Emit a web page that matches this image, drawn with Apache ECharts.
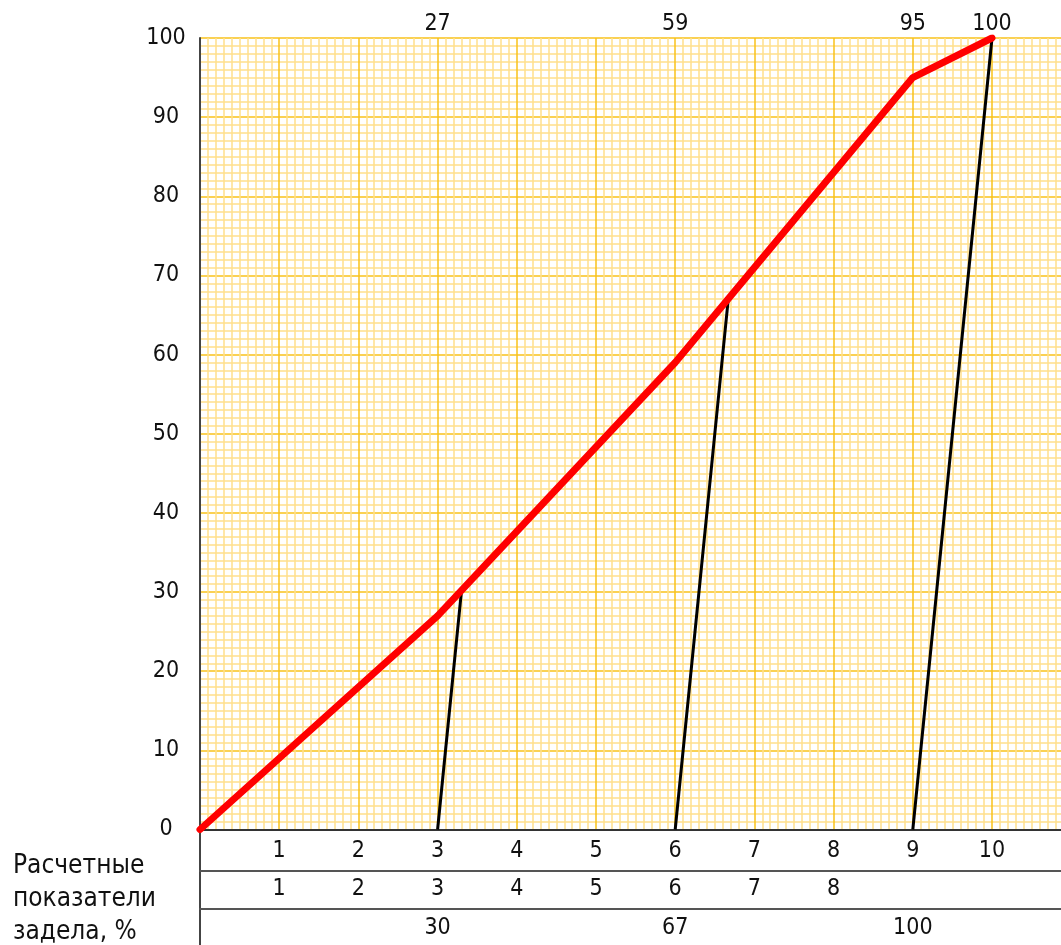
<!DOCTYPE html>
<html>
<head>
<meta charset="utf-8">
<script src="https://cdn.jsdelivr.net/npm/echarts@6/dist/echarts.min.js"></script>
<style>
  html, body { margin: 0; padding: 0; background: #fff; }
  #main { width: 1061px; height: 945px; }
</style>
</head>
<body>
<div id="main"></div>
<script>
// red cumulative curve
var curveX = [0, 3, 6, 9, 10];
var curveY = [0, 27, 59, 95, 100];

// black lead lines: start on the axis, end on the curve
var leadStartX = [3, 6, 9];
var leadEndX = [3.3, 6.67, 10];
var leadEndY = [30, 67, 100];

// tick labels
var yLabels = ['0', '10', '20', '30', '40', '50', '60', '70', '80', '90', '100'];
var topX = [3, 6, 9, 10];
var topLabels = ['27', '59', '95', '100'];
var row1X = [1, 2, 3, 4, 5, 6, 7, 8, 9, 10];
var row1Labels = ['1', '2', '3', '4', '5', '6', '7', '8', '9', '10'];
var row2X = [1, 2, 3, 4, 5, 6, 7, 8];
var row2Labels = ['1', '2', '3', '4', '5', '6', '7', '8'];
var row3X = [3, 6, 9];
var row3Labels = ['30', '67', '100'];

var FONT = '"DejaVu Sans Condensed", "DejaVu Sans", sans-serif';
var FS = 23;

function pick(xs, labels) {
    return function (v) {
        var i = xs.indexOf(Math.round(v * 100) / 100);
        return i < 0 ? '' : labels[i];
    };
}

var chartDom = document.getElementById('main');
var myChart = echarts.init(chartDom);
var option;

function rowAxis(offset, margin, xs, labels) {
    return {
        type: 'value', gridIndex: 0, position: 'bottom', offset: offset,
        min: 0, max: 11, interval: 1,
        axisLine: { show: true, onZero: false, lineStyle: { color: '#555', width: 2 } },
        axisTick: { show: false },
        splitLine: { show: false },
        axisLabel: {
            margin: margin, verticalAlign: 'middle', color: '#111',
            fontFamily: FONT, fontSize: FS,
            formatter: pick(xs, labels)
        }
    };
}

var series = [{
    type: 'line',
    data: curveX.map(function (x, i) { return [x, curveY[i]]; }),
    showSymbol: false,
    lineStyle: { color: '#ff0000', width: 7, cap: 'round', join: 'round' },
    z: 5
}];
leadStartX.forEach(function (x, i) {
    series.push({
        type: 'line',
        data: [[x, 0], [leadEndX[i], leadEndY[i]]],
        showSymbol: false,
        lineStyle: { color: '#000', width: 3 },
        z: 4
    });
});

option = {
    animation: false,
    backgroundColor: '#fff',
    title: {
        text: 'Расчетные\nпоказатели\nзадела, %',
        left: 8, top: 845,
        textStyle: { fontFamily: FONT, fontSize: 26, fontWeight: 'normal', color: '#111', lineHeight: 33 }
    },
    grid: [
        { left: 200, width: 871.2, top: 38, height: 791.5, outerBoundsMode: 'none', containLabel: false },
        { left: 200, width: 871.2, top: 829, height: 116, outerBoundsMode: 'none', containLabel: false }
    ],
    xAxis: [
        {
            type: 'value', gridIndex: 0, position: 'bottom',
            min: 0, max: 11, interval: 1,
            axisLine: { show: true, onZero: false, lineStyle: { color: '#333', width: 2 } },
            axisTick: { show: false },
            axisLabel: {
                margin: 22, verticalAlign: 'middle', color: '#111',
                fontFamily: FONT, fontSize: FS,
                formatter: pick(row1X, row1Labels)
            },
            splitLine: { show: true, lineStyle: { color: '#f8c21a', width: 1.5 } },
            minorTick: { show: false, splitNumber: 10 },
            minorSplitLine: { show: true, lineStyle: { color: '#ffe08c', width: 1.5 } }
        },
        rowAxis(41, 19, row2X, row2Labels),
        rowAxis(79, 20, row3X, row3Labels),
        {
            type: 'value', gridIndex: 0, position: 'top',
            min: 0, max: 11, interval: 1,
            axisLine: { show: false },
            axisTick: { show: false },
            splitLine: { show: false },
            axisLabel: {
                margin: 14, verticalAlign: 'middle', color: '#111',
                fontFamily: FONT, fontSize: FS,
                formatter: pick(topX, topLabels)
            }
        },
        {
            type: 'value', gridIndex: 1, min: 0, max: 11, show: false
        }
    ],
    yAxis: [
        {
            type: 'value', gridIndex: 0,
            min: 0, max: 100, interval: 10,
            axisLine: { show: true, lineStyle: { color: '#444', width: 2 } },
            axisTick: { show: false },
            axisLabel: {
                margin: 34, align: 'center', color: '#111',
                fontFamily: FONT, fontSize: FS,
                formatter: function (v) { return yLabels[Math.round(v / 10)] || ''; }
            },
            splitLine: { show: true, lineStyle: { color: '#f8c21a', width: 1.5 } },
            minorTick: { show: false, splitNumber: 10 },
            minorSplitLine: { show: true, lineStyle: { color: '#ffe08c', width: 1.5 } }
        },
        {
            type: 'value', gridIndex: 1, min: 0, max: 1,
            axisLine: { show: true, lineStyle: { color: '#444', width: 2 } },
            axisTick: { show: false },
            axisLabel: { show: false },
            splitLine: { show: false }
        }
    ],
    series: series
};

option && myChart.setOption(option);
</script>
</body>
</html>
